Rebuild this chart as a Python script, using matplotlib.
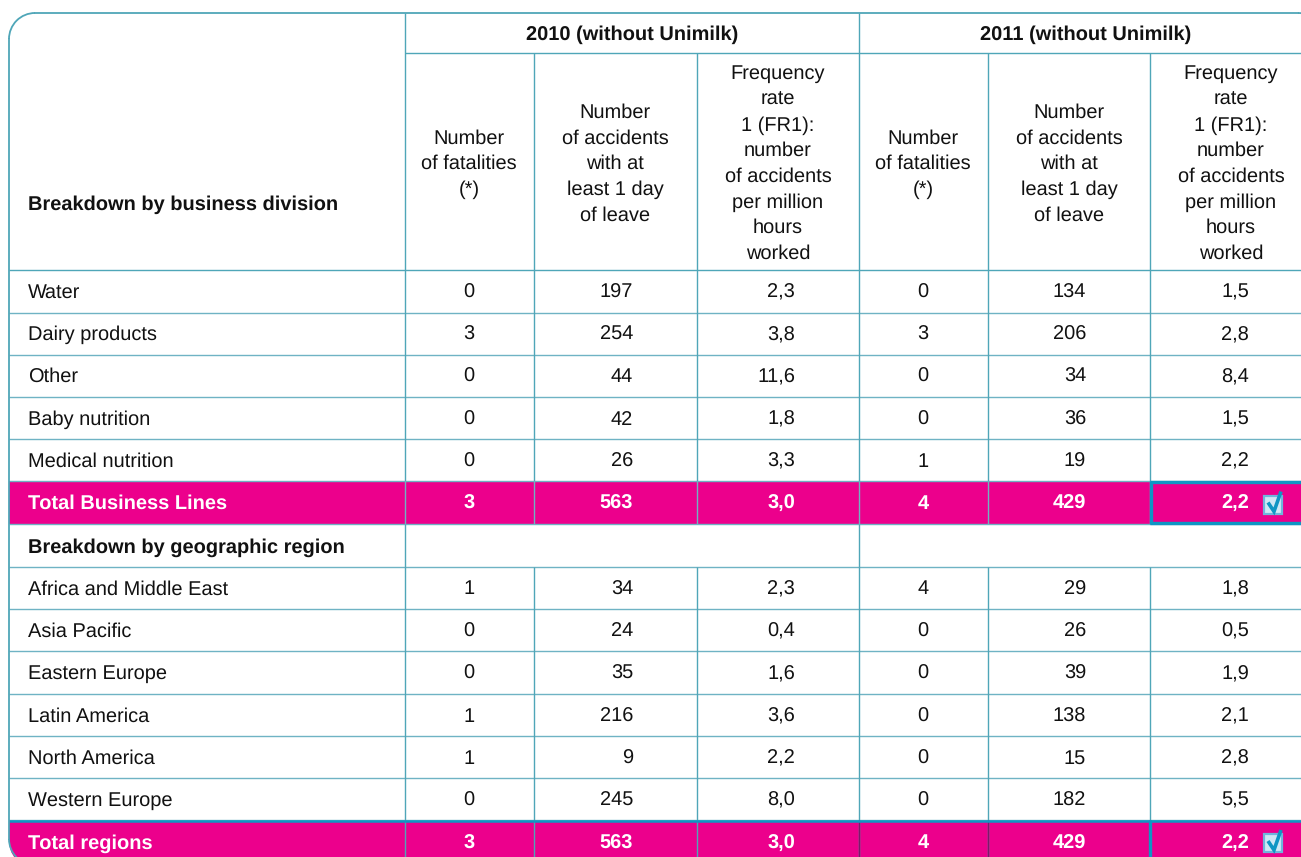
import matplotlib.pyplot as plt
from matplotlib.patches import Rectangle, FancyBboxPatch, Arc

plt.rcParams['font.family'] = ['Liberation Sans', 'DejaVu Sans']
plt.rcParams['text.hinting'] = 'none'
plt.rcParams['text.hinting_factor'] = 1

# table content
periods = ["2010 (without Unimilk)", "2011 (without Unimilk)"]
col_heads = ["Number\nof fatalities\n(*)",
             "Number\nof accidents\nwith at\nleast 1 day\nof leave",
             "Frequency\nrate\n1 (FR1):\nnumber\nof accidents\nper million\nhours\nworked"]
head1 = "Breakdown by business division"
head2 = "Breakdown by geographic region"
total1 = "Total Business Lines"
total2 = "Total regions"

divisions = ["Water", "Dairy products", "Other", "Baby nutrition", "Medical nutrition"]
div_fat_10 = ["0", "3", "0", "0", "0"]
div_acc_10 = ["197", "254", "44", "42", "26"]
div_fr_10 = ["2,3", "3,8", "11,6", "1,8", "3,3"]
div_fat_11 = ["0", "3", "0", "0", "1"]
div_acc_11 = ["134", "206", "34", "36", "19"]
div_fr_11 = ["1,5", "2,8", "8,4", "1,5", "2,2"]
div_total = ["3", "563", "3,0", "4", "429", "2,2"]

regions = ["Africa and Middle East", "Asia Pacific", "Eastern Europe",
           "Latin America", "North America", "Western Europe"]
reg_fat_10 = ["1", "0", "0", "1", "1", "0"]
reg_acc_10 = ["34", "24", "35", "216", "9", "245"]
reg_fr_10 = ["2,3", "0,4", "1,6", "3,6", "2,2", "8,0"]
reg_fat_11 = ["4", "0", "0", "0", "0", "0"]
reg_acc_11 = ["29", "26", "39", "138", "15", "182"]
reg_fr_11 = ["1,8", "0,5", "1,9", "2,1", "2,8", "5,5"]
reg_total = ["3", "563", "3,0", "4", "429", "2,2"]

# layout in pixels
col_x = [9, 405, 534, 697, 859, 988, 1150, 1320]
row_y = [270, 312.5, 354.5, 397, 439, 481, 524, 567, 609, 651, 694, 736, 778, 820, 865]
cell_center = [469, 615, 778, 923, 1069, 1231]
cell_right = [None, 633, 795, None, 1086, 1249]
label_x = 28
teal = '#4fa6b8'
blue = '#0f96c4'
magenta = '#ec008c'
ink = '#111111'
fs = 14.1
lh = 25.65
base = 6.5
rad = 26

fig = plt.figure(figsize=(13.01, 8.57), dpi=100)
ax = fig.add_axes([0, 0, 1, 1])
ax.set_xlim(0, 1301)
ax.set_ylim(857, 0)
ax.axis('off')

outline = FancyBboxPatch((9, 13), 1315, 852, boxstyle="round,pad=0,rounding_size=26",
                         fc='white', ec='none')
ax.add_patch(outline)


def hline(y, x0=9, x1=1320, c=teal, lw=1.0, z=3):
    ax.plot([x0, x1], [y, y], color=c, lw=lw, zorder=z, solid_capstyle='butt')[0].set_clip_path(outline)


def vline(x, y0, y1, c=teal, lw=1.0, z=3):
    ax.plot([x, x], [y0, y1], color=c, lw=lw, zorder=z, solid_capstyle='butt')[0].set_clip_path(outline)


# pink total rows
for r in [5, 13]:
    ax.add_patch(Rectangle((9, row_y[r]), 1320, row_y[r + 1] - row_y[r],
                           fc=magenta, ec='none', zorder=1)).set_clip_path(outline)

# grid
for y in row_y[:-1]:
    hline(y, c=teal if y == 270 else '#6fb3c4')
for x in col_x[1:-1]:
    y_top = 13 if x in (405, 859) else 53
    vline(x, y_top, 481)
    vline(x, 481, 524, c='#6fb3c4')
    vline(x, 567, 857)
for x in [405, 859]:
    vline(x, 524, 567)
hline(53, 405, 1320)
vline(859, 820, 857, c='#7a1a6a')
vline(988, 820, 857, c='#7a1a6a')

# blue highlight around the 2011 total cells
vline(1151, 481, 524, c=blue, lw=2.4, z=4)
hline(482, 1150, 1320, c=blue, lw=2.4, z=4)
hline(523, 1150, 1320, c=blue, lw=2.4, z=4)
vline(1150, 820, 865, c=blue, lw=2.4, z=4)
hline(820.5, 9, 1320, c=blue, lw=1.8, z=4)

# outer border, drawn in pieces so the corners stay clean at the canvas edge
ax.plot([9 + rad, 1298], [13, 13], color=teal, lw=1.3, zorder=5)
ax.plot([9, 9], [13 + rad, 865 - rad], color=teal, lw=1.3, zorder=5)
for center, t1, t2 in [((9 + rad, 13 + rad), 180, 270), ((9 + rad, 865 - rad), 90, 180), ((1298, 13 + rad), 270, 360)]:
    ax.add_patch(Arc(center, 2 * rad, 2 * rad, theta1=t1, theta2=t2, color=teal, lw=1.3, zorder=5))

# header
for i, p in enumerate(periods):
    ax.text([632, 1086][i], 33.5 + base, p, ha='center', va='baseline', fontsize=fs, fontweight='bold', color=ink)
for i in range(6):
    lines = col_heads[i % 3].split("\n")
    y0 = 162.5 - (len(lines) - 1) * lh / 2
    for k, line in enumerate(lines):
        ax.text(cell_center[i], y0 + k * lh + base, line, ha='center', va='baseline', fontsize=fs, color=ink)
ax.text(label_x, 203 + base, head1, ha='left', va='baseline', fontsize=fs, fontweight='bold', color=ink)
ax.text(label_x, 546 + base, head2, ha='left', va='baseline', fontsize=fs, fontweight='bold', color=ink, zorder=6)


def put_row(r, label, vals, color=ink, weight='normal'):
    yc = (row_y[r] + row_y[r + 1]) / 2 + base
    if r == 13:
        yc = 842 + base
    ax.text(label_x, yc, label, ha='left', va='baseline', fontsize=fs, color=color, fontweight=weight, zorder=6)
    for i, v in enumerate(vals):
        if cell_right[i] is None:
            ax.text(cell_center[i], yc, v, ha='center', va='baseline', fontsize=fs, color=color, fontweight=weight, zorder=6)
        else:
            ax.text(cell_right[i], yc, v, ha='right', va='baseline', fontsize=fs, color=color, fontweight=weight, zorder=6)


def check_box(yc):
    ax.add_patch(Rectangle((1264, yc - 9), 18, 18, fc='#cfe8f5', ec='#6fb6dc', lw=1.6, zorder=6))
    ax.plot([1268, 1274, 1281], [yc - 2, yc + 7, yc - 13], color=blue, lw=2.6, zorder=7,
            solid_capstyle='butt', solid_joinstyle='miter')


for n, name in enumerate(divisions):
    put_row(n, name, [div_fat_10[n], div_acc_10[n], div_fr_10[n], div_fat_11[n], div_acc_11[n], div_fr_11[n]])
put_row(5, total1, div_total, color='white', weight='bold')
check_box(504.5)
for n, name in enumerate(regions):
    put_row(7 + n, name, [reg_fat_10[n], reg_acc_10[n], reg_fr_10[n], reg_fat_11[n], reg_acc_11[n], reg_fr_11[n]])
put_row(13, total2, reg_total, color='white', weight='bold')
check_box(843)

fig.savefig("out.png", dpi=100)
